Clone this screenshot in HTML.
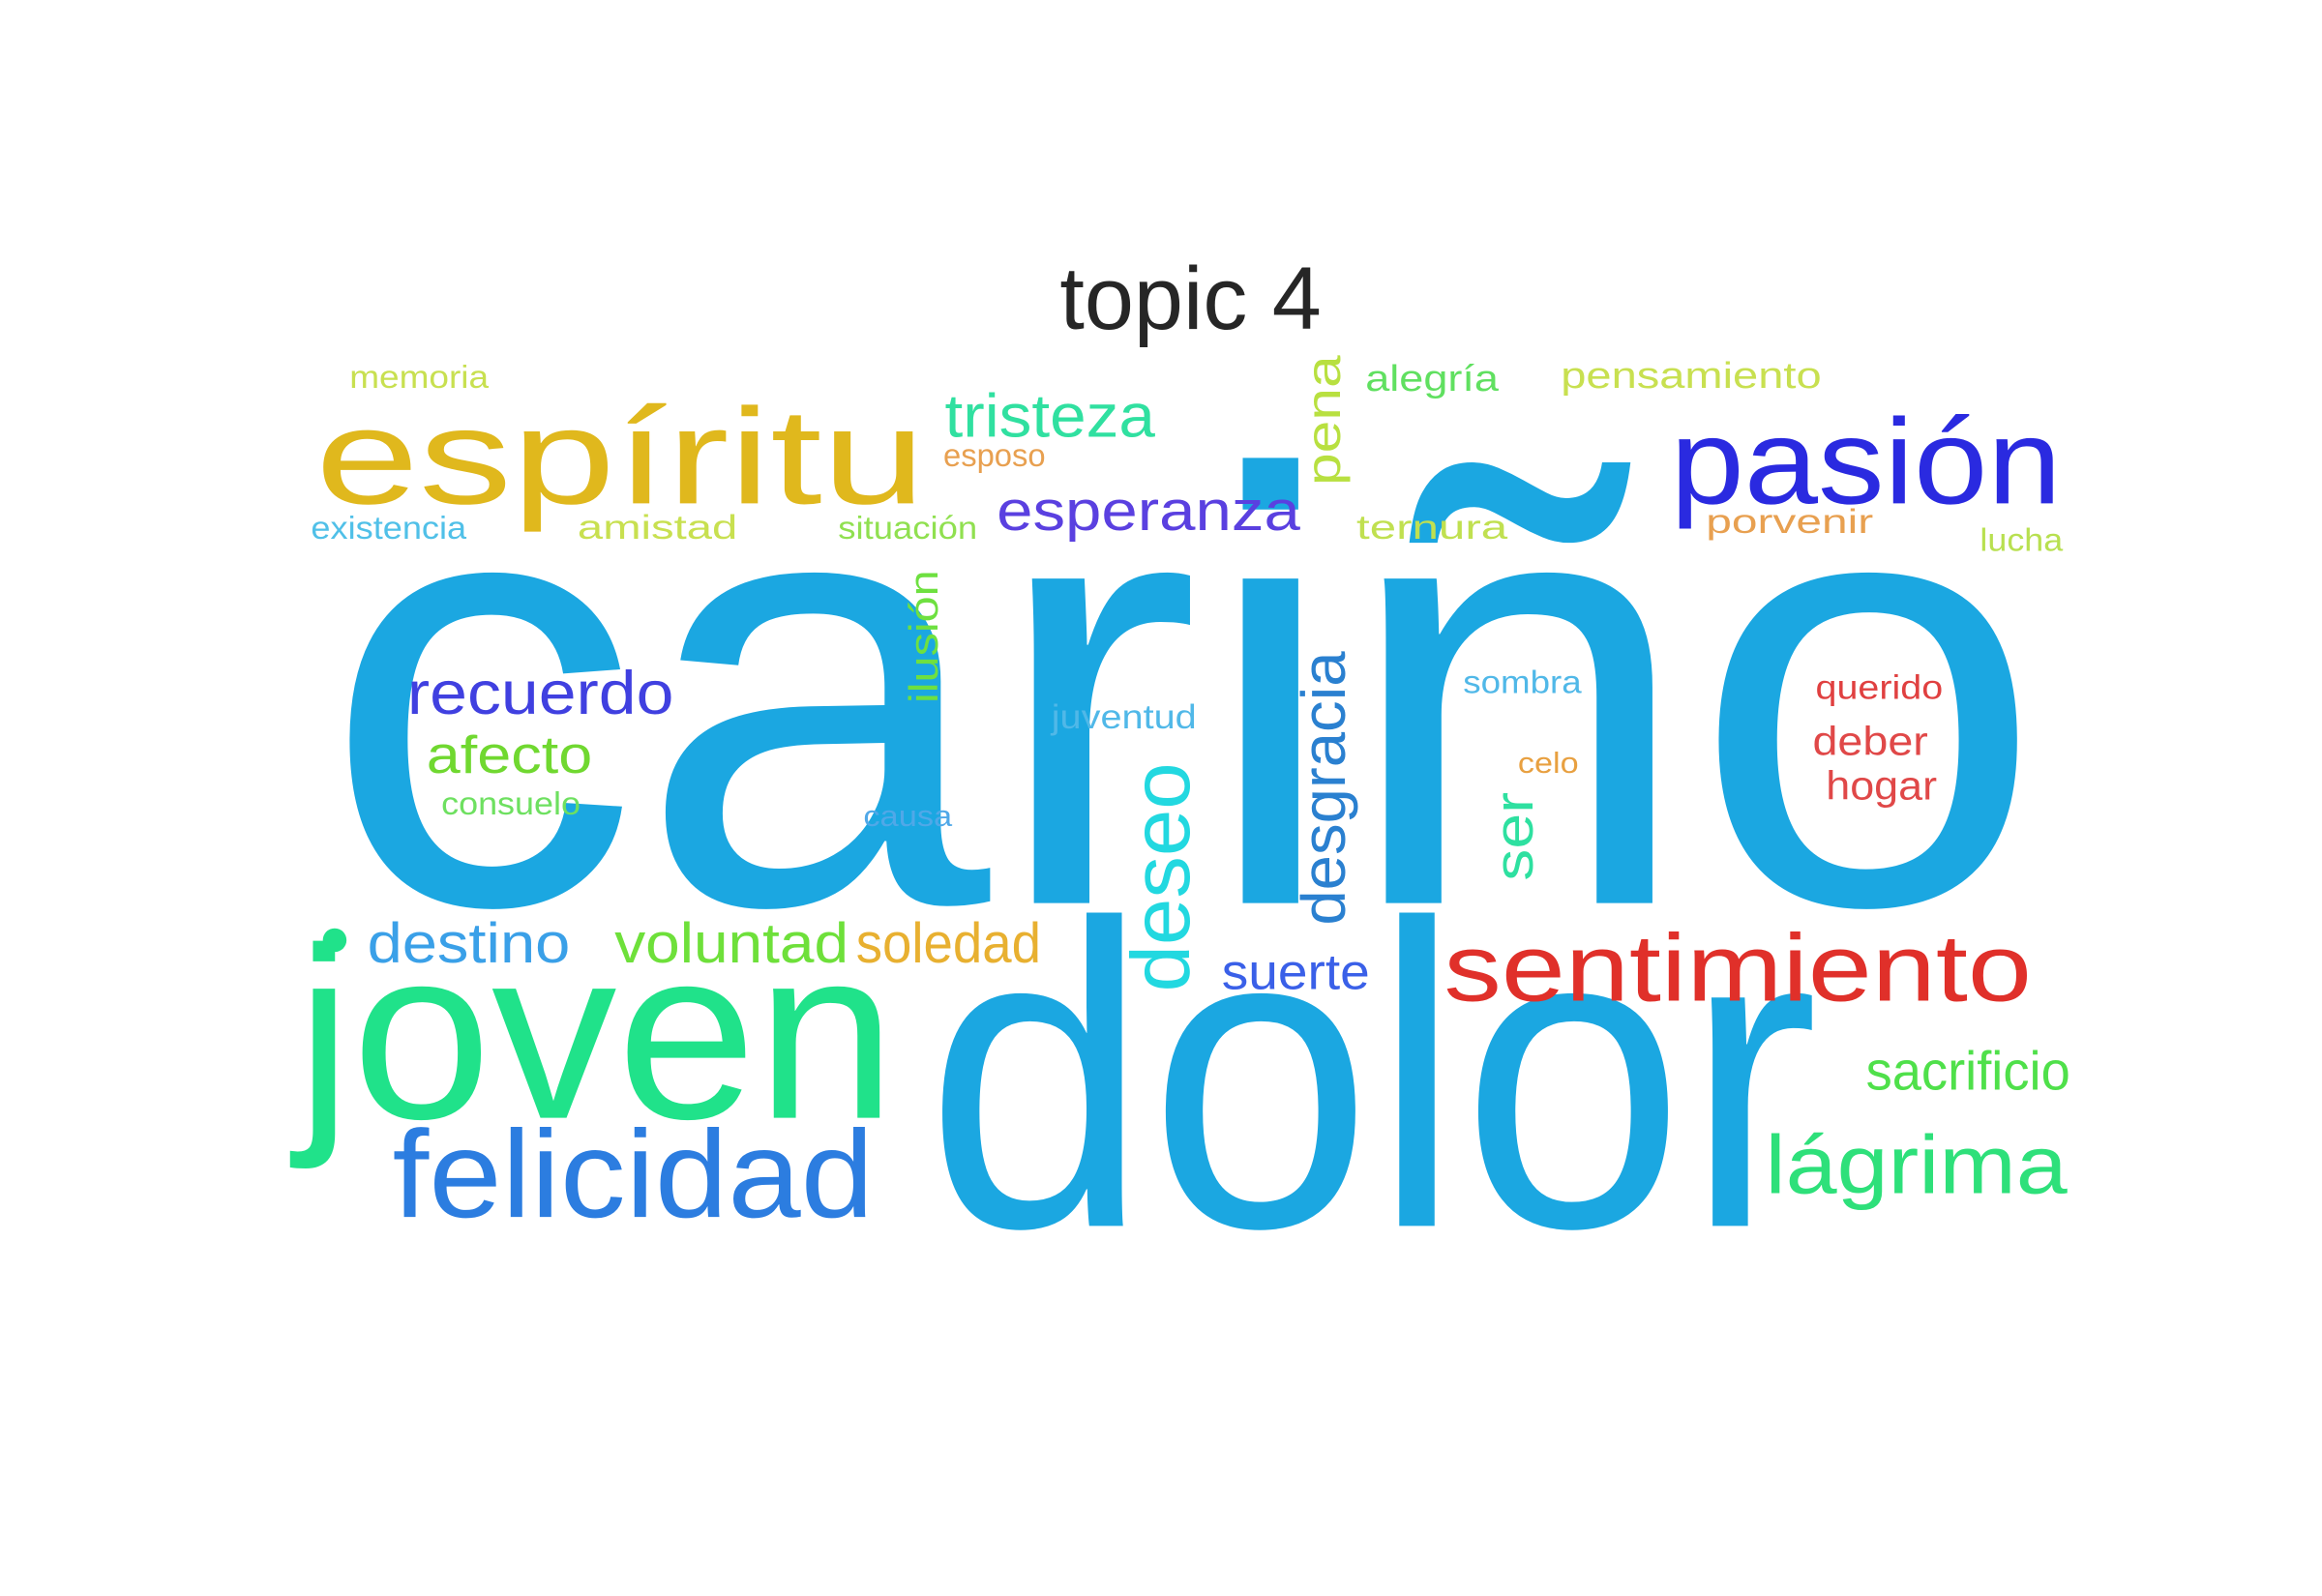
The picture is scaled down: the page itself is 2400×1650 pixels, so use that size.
<!DOCTYPE html>
<html><head><meta charset="utf-8"><style>
html,body{margin:0;padding:0;background:#fff;width:2400px;height:1650px;overflow:hidden}
svg text{font-family:"Liberation Sans","DejaVu Sans",sans-serif}
</style></head><body>
<svg id="cloud" width="2400" height="1650" viewBox="0 0 1568 1078" xmlns="http://www.w3.org/2000/svg">
<text x="804" y="222" text-anchor="middle" font-size="60" fill="#262626">topic 4</text>
<g id="words"></g>
</svg>
<script>
const words=["cariño","dolor","joven","espíritu","pasión","felicidad","sentimiento","lágrima","sacrificio","destino","voluntad","soledad","suerte","deseo","desgracia","ser","ilusión","pena","recuerdo","afecto","consuelo","causa","juventud","sombra","querido","deber","hogar","celo","esperanza","tristeza","esposo","situación","amistad","existencia","memoria","alegría","pensamiento","ternura","porvenir","lucha"];
const sizes=[415,292,165,92,82,84,64,56,37,38,38,38,34,56,42,37,27,33,41,36,22,20,23,22,23,27,27,20,38,41,22,22,23,22,22,25,25,23,23,22];
const colors=["#1ba7e1","#1ba7e1","#20e28a","#e0b81d","#2a2ae0","#2c7de0","#e0302a","#2ee07a","#4fe04a","#3aa0e8","#6ee03a","#e8b030","#3a60e8","#22d8e0","#2a80d0","#2ee0a0","#6ee040","#b8e040","#4040e0","#70d830","#6ee060","#50a8e8","#50b8e8","#50b8e8","#e04040","#e04848","#e04848","#e8a040","#5a40e0","#30e0a0","#e8a050","#90e050","#c8e050","#50c0e8","#c8e050","#60e060","#c8e050","#c0e050","#e8a050","#b8e050"];
// layout: x, baseline y, length, rotated
const lx=[218,625,200,213,1128,265,975,1192,1260,248,415,578,825,803,908,1035,633,905,275,288,298,583,710,988,1226,1224,1233,1025,673,638,637,566,390,210,236,922,1054,916,1152,1337];
const ly=[610,828,755,340,340,822,676,806,736,650,650,650,668,670,625,595,475,328,482,522,550,558,492,468,472,510,540,522,358,295,315,364,364,364,262,264,262,364,360,372];
const ll=[1162,603,405,412,264,325,397,204,138,137,158,125,100,155,185,60,90,88,180,112,94,60,98,80,86,78,75,41,205,142,69,94,108,105,94,90,176,102,113,56];
const rot=[0,0,0,0,0,0,0,0,0,0,0,0,0,1,1,1,1,1,0,0,0,0,0,0,0,0,0,0,0,0,0,0,0,0,0,0,0,0,0,0];
const g=document.getElementById('words');
const NS="http://www.w3.org/2000/svg";
words.forEach((w,i)=>{
  const t=document.createElementNS(NS,'text');
  
  
  t.textContent=w;
  t.setAttribute('font-size',sizes[i]);
  t.setAttribute('fill',colors[i]);
  t.setAttribute('textLength',ll[i]);
  t.setAttribute('lengthAdjust','spacingAndGlyphs');
  if(rot[i]){
    t.setAttribute('x',0);t.setAttribute('y',0);
    t.setAttribute('transform','translate('+lx[i]+','+ly[i]+') rotate(-90)');
  }else{
    t.setAttribute('x',lx[i]);t.setAttribute('y',ly[i]);
  }
  g.appendChild(t);
});
const c=document.createElementNS(NS,'circle');


c.setAttribute('cx',226);c.setAttribute('cy',635);c.setAttribute('r',8);c.setAttribute('fill','#20e28a');
g.appendChild(c);
</script>
</body></html>
